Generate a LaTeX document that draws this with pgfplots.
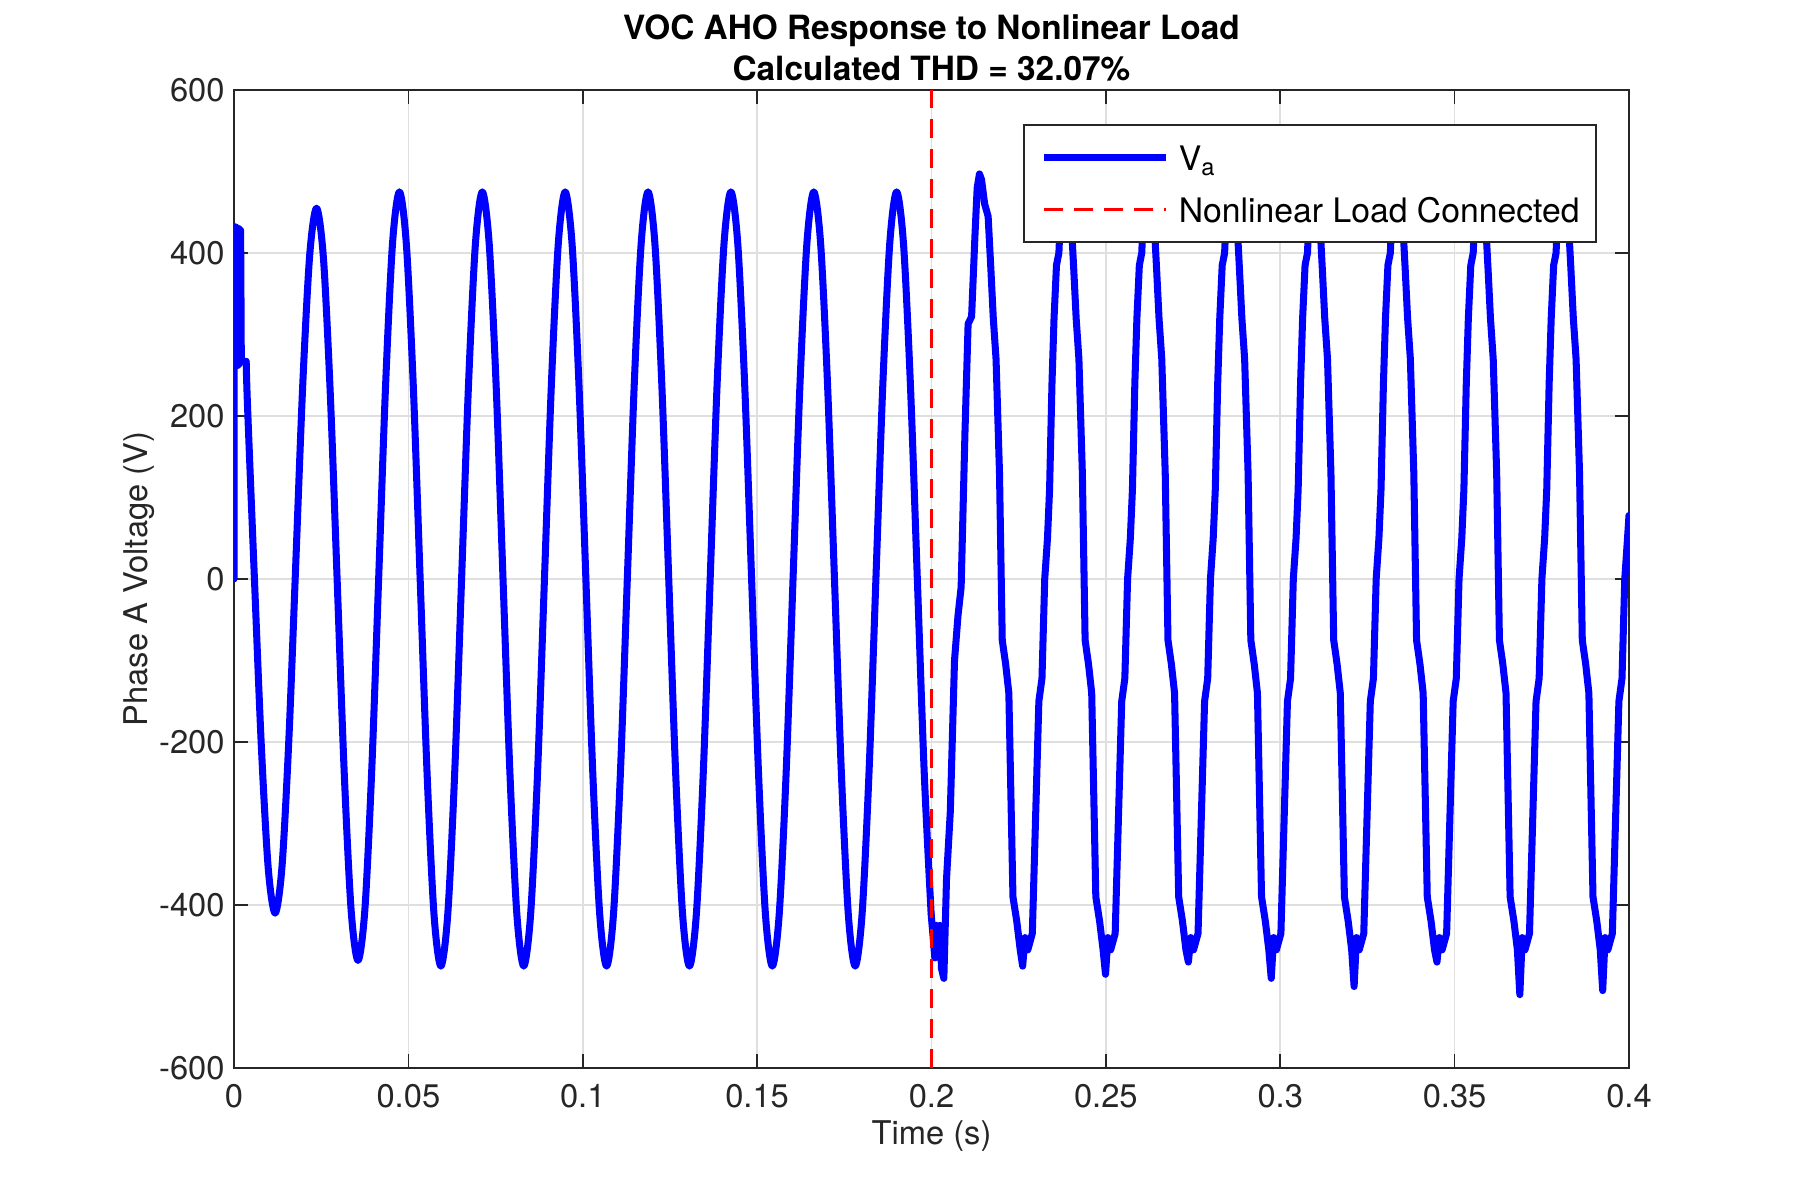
\documentclass[border=0pt]{standalone}
\usepackage{fontspec}
\setmainfont{TeX Gyre Heros}
\usepackage{pgfplots}
\pgfplotsset{compat=1.18}
\definecolor{axgray}{RGB}{38,38,38}
\definecolor{gridgray}{RGB}{223,223,223}
\definecolor{mblue}{RGB}{0,0,255}
\definecolor{mred}{RGB}{255,0,0}
\begin{document}
\begin{tikzpicture}
\useasboundingbox (0,0) rectangle (18cm,12cm);
\begin{axis}[
  at={(2.34cm,1.32cm)}, anchor=south west,
  width=13.95cm, height=9.78cm, scale only axis,
  xmin=0, xmax=0.4, ymin=-600, ymax=600,
  xtick={0,0.05,0.1,0.15,0.2,0.25,0.3,0.35,0.4},
  xticklabels={0,0.05,0.1,0.15,0.2,0.25,0.3,0.35,0.4},
  ytick={-600,-400,-200,0,200,400,600},
  yticklabels={-600,-400,-200,0,200,400,600},
  axis line style={axgray, line width=0.45pt},
  tick style={axgray, line width=0.45pt},
  major tick length=0.14cm,
  tick align=inside,
  xtick pos=both, ytick pos=both,
  grid=major,
  major grid style={gridgray, line width=0.45pt},
  ticklabel style={font=\fontsize{9.3}{11}\selectfont, text=axgray},
  xticklabel style={yshift=-0.04cm},
  yticklabel style={xshift=0.03cm},
  xlabel={Time (s)},
  ylabel={Phase A Voltage (V)},
  label style={font=\fontsize{9.3}{11}\selectfont, text=axgray},
  xlabel style={at={(axis description cs:0.5,-0.0695)}, anchor=center},
  ylabel style={at={(axis description cs:-0.068,0.5)}, anchor=center},
  title={VOC AHO Response to Nonlinear Load\\Calculated THD = 32.07\%},
  title style={font=\fontsize{9.5}{11.8}\selectfont\bfseries, align=center,
    at={(axis description cs:0.5,1.043)}, anchor=center, yshift=-6pt, text=black},
  legend style={at={(rel axis cs:0.977,0.9652)}, anchor=north east,
    draw=axgray, line width=0.45pt, fill=white,
    inner xsep=0.165cm, inner ysep=0.15cm,
    nodes={inner sep=0pt, text height=0.305cm, text depth=0.05cm},
    row sep=0.164cm, column sep=0.09cm,
    font=\fontsize{9.6}{11}\selectfont, text=black},
  legend cell align=left,
  legend image code/.code={\draw[#1, line cap=butt] (0cm,0cm) -- (1.22cm,0cm);},
]
% start-up transient
\addplot[mblue, line width=2pt, line join=round, line cap=round, forget plot] coordinates {
(0,0) (0.0001,432) (0.0005,432) (0.0006,262) (0.0009,430) (0.0011,262) (0.0014,430)
(0.0016,264) (0.0019,428) (0.0021,267) (0.0035,267)
};
% undistorted operation
\addplot[mblue, line width=2pt, line join=round, line cap=round, smooth] coordinates {
(0.0035,267) (0.00388,212) (0.00586,0) (0.00784,-205) (0.00982,-355) (0.0118,-410)
(0.01378,-352) (0.01576,-194) (0.01774,22) (0.01972,239) (0.0217,397) (0.02368,455)
(0.02566,393) (0.02764,224) (0.02962,-6) (0.0316,-237) (0.03358,-406) (0.03556,-468)
(0.03754,-405) (0.03952,-232) (0.0415,3) (0.04348,239) (0.04546,412) (0.04744,475)
(0.04942,411) (0.0514,238) (0.05338,0) (0.05536,-238) (0.05734,-411) (0.05932,-475)
(0.0613,-411) (0.06328,-238) (0.06526,0) (0.06724,238) (0.06922,411) (0.0712,475)
(0.07318,411) (0.07516,238) (0.07714,0) (0.07912,-238) (0.0811,-411) (0.08308,-475)
(0.08506,-411) (0.08704,-238) (0.08902,0) (0.091,238) (0.09298,411) (0.09496,475)
(0.09694,411) (0.09892,238) (0.1009,0) (0.10288,-238) (0.10486,-411) (0.10684,-475)
(0.10882,-411) (0.1108,-238) (0.11278,0) (0.11476,238) (0.11674,411) (0.11872,475)
(0.1207,411) (0.12268,238) (0.12466,0) (0.12664,-238) (0.12862,-411) (0.1306,-475)
(0.13258,-411) (0.13456,-238) (0.13654,0) (0.13852,238) (0.1405,411) (0.14248,475)
(0.14446,411) (0.14644,238) (0.14842,0) (0.1504,-238) (0.15238,-411) (0.15436,-475)
(0.15634,-411) (0.15832,-238) (0.1603,0) (0.16228,238) (0.16426,411) (0.16624,475)
(0.16822,411) (0.1702,238) (0.17218,0) (0.17416,-238) (0.17614,-411) (0.17812,-475)
(0.1801,-411) (0.18208,-238) (0.18406,0) (0.18604,238) (0.18802,411) (0.19,475)
(0.19198,411) (0.19396,238) (0.19594,0) (0.19792,-238) (0.1999,-411)
};
\addlegendentry{V\textsubscript{a}}
% after the nonlinear load is connected
\addplot[mblue, line width=2pt, line join=round, line cap=round, forget plot] coordinates {
(0.1999,-411) (0.20048,-440) (0.20096,-465) (0.20144,-425) (0.20192,-462) (0.2024,-425)
(0.20287,-478) (0.20354,-490) (0.20431,-368) (0.2054,-285) (0.2066,-100) (0.2076,-45)
(0.2085,-10) (0.2096,180) (0.2105,313) (0.2115,322) (0.2125,425) (0.2131,480)
(0.21376,497) (0.21435,490) (0.21525,460) (0.21624,445) (0.21703,380) (0.21772,320)
(0.21851,270) (0.2195,130) (0.22029,-75) (0.22128,-105) (0.22218,-140) (0.22336,-390)
(0.22445,-420) (0.22544,-455) (0.22614,-475) (0.22683,-440) (0.22762,-455) (0.22891,-435)
(0.2298,-300) (0.23079,-150) (0.23168,-122) (0.23247,0) (0.23326,50) (0.23386,110)
(0.23455,240) (0.23514,320) (0.23584,385) (0.23653,400) (0.23712,460)
(0.23752,495) (0.23811,490) (0.23901,460) (0.24,445) (0.24079,380) (0.24148,320)
(0.24227,270) (0.24326,130) (0.24405,-75) (0.24504,-105) (0.24594,-140) (0.24712,-390)
(0.24821,-420) (0.2492,-455) (0.2499,-485) (0.25059,-440) (0.25138,-455) (0.25267,-435)
(0.25356,-300) (0.25455,-150) (0.25544,-122) (0.25623,0) (0.25702,50) (0.25762,110)
(0.25831,240) (0.2589,320) (0.2596,385) (0.26029,400) (0.26088,460)
(0.26128,495) (0.26187,490) (0.26277,460) (0.26376,445) (0.26455,380) (0.26524,320)
(0.26603,270) (0.26702,130) (0.26781,-75) (0.2688,-105) (0.2697,-140) (0.27088,-390)
(0.27197,-420) (0.27296,-455) (0.27366,-470) (0.27435,-440) (0.27514,-455) (0.27643,-435)
(0.27732,-300) (0.27831,-150) (0.2792,-122) (0.27999,0) (0.28078,50) (0.28138,110)
(0.28207,240) (0.28266,320) (0.28336,385) (0.28405,400) (0.28464,460)
(0.28504,495) (0.28563,490) (0.28653,460) (0.28752,445) (0.28831,380) (0.289,320)
(0.28979,270) (0.29078,130) (0.29157,-75) (0.29256,-105) (0.29346,-140) (0.29464,-390)
(0.29573,-420) (0.29672,-455) (0.29742,-490) (0.29811,-440) (0.2989,-455) (0.30019,-435)
(0.30108,-300) (0.30207,-150) (0.30296,-122) (0.30375,0) (0.30454,50) (0.30514,110)
(0.30583,240) (0.30642,320) (0.30712,385) (0.30781,400) (0.3084,460)
(0.3088,495) (0.30939,490) (0.31029,460) (0.31128,445) (0.31207,380) (0.31276,320)
(0.31355,270) (0.31454,130) (0.31533,-75) (0.31632,-105) (0.31722,-140) (0.3184,-390)
(0.31949,-420) (0.32048,-455) (0.32118,-500) (0.32187,-440) (0.32266,-455) (0.32395,-435)
(0.32484,-300) (0.32583,-150) (0.32672,-122) (0.32751,0) (0.3283,50) (0.3289,110)
(0.32959,240) (0.33018,320) (0.33088,385) (0.33157,400) (0.33216,460)
(0.33256,495) (0.33315,490) (0.33405,460) (0.33504,445) (0.33583,380) (0.33652,320)
(0.33731,270) (0.3383,130) (0.33909,-75) (0.34008,-105) (0.34098,-140) (0.34216,-390)
(0.34325,-420) (0.34424,-455) (0.34494,-470) (0.34563,-440) (0.34642,-455) (0.34771,-435)
(0.3486,-300) (0.34959,-150) (0.35048,-122) (0.35127,0) (0.35206,50) (0.35266,110)
(0.35335,240) (0.35394,320) (0.35464,385) (0.35533,400) (0.35592,460)
(0.35632,495) (0.35691,490) (0.35781,460) (0.3588,445) (0.35959,380) (0.36028,320)
(0.36107,270) (0.36206,130) (0.36285,-75) (0.36384,-105) (0.36474,-140) (0.36592,-390)
(0.36701,-420) (0.368,-455) (0.3687,-510) (0.36939,-440) (0.37018,-455) (0.37147,-435)
(0.37236,-300) (0.37335,-150) (0.37424,-122) (0.37503,0) (0.37582,50) (0.37642,110)
(0.37711,240) (0.3777,320) (0.3784,385) (0.37909,400) (0.37968,460)
(0.38008,495) (0.38067,490) (0.38157,460) (0.38256,445) (0.38335,380) (0.38404,320)
(0.38483,270) (0.38582,130) (0.38661,-75) (0.3876,-105) (0.3885,-140) (0.38968,-390)
(0.39077,-420) (0.39176,-455) (0.39246,-505) (0.39315,-440) (0.39394,-455) (0.39523,-435)
(0.39612,-300) (0.39711,-150) (0.398,-122) (0.39879,0) (0.39958,50) (0.4,78)
};
% load connection instant
\addplot[mred, line width=0.6pt, dash pattern=on 0.19cm off 0.11cm] coordinates {(0.2,-600) (0.2,600)};
\addlegendentry{Nonlinear Load Connected}
\end{axis}
\end{tikzpicture}
\end{document}
